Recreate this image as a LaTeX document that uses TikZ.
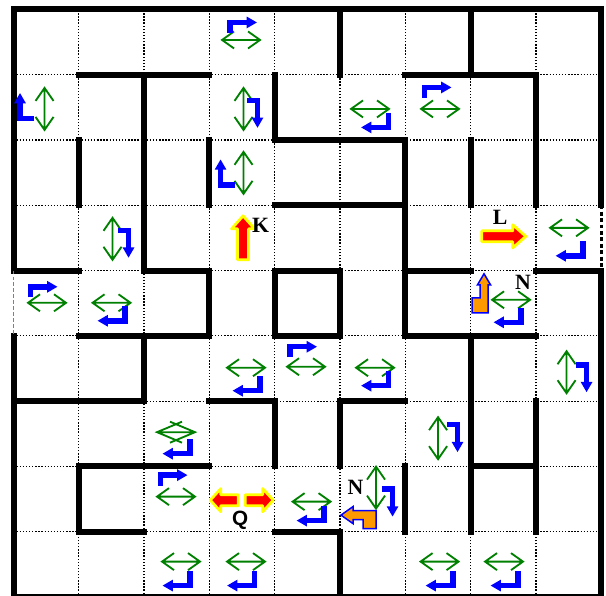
\documentclass[tikz,border=0pt]{standalone}
\usepackage{fontspec}
\setmainfont{Liberation Serif}
\newfontfamily\labelsans{Liberation Sans}
\usetikzlibrary{arrows.meta}
\definecolor{mazegreen}{RGB}{0,128,0}
\definecolor{mazeblue}{RGB}{0,0,255}
\definecolor{mazered}{RGB}{255,0,0}
\definecolor{mazeyellow}{RGB}{255,255,0}
\definecolor{mazeorange}{RGB}{255,153,0}
\tikzset{
  pxunit/.style={x=0.1531mm,y=0.1531mm},
  wall/.style={line width=2.6pt,line cap=rect},
  gridline/.style={line width=0.55pt,dash pattern=on 0.6pt off 0.75pt},
  greenarr/.style={pxunit,draw=mazegreen,line width=0.8pt},
  bluebend/.style={pxunit,draw=mazeblue,line width=2.4pt,
    -{Triangle[length=4.5pt,width=4.8pt]}},
  redshape/.style={pxunit,fill=mazered,draw=mazeyellow,line width=1.2pt,line join=round},
  orangeshape/.style={pxunit,fill=mazeorange,draw=mazeblue,line width=0.65pt},
  lbl/.style={inner sep=0pt,font=\fontsize{9.5}{11}\selectfont\bfseries},
  gh/.pic={\draw[greenarr] (-19,0)--(19,0) (-7,8.5)--(-19,0)--(-7,-8.5)
    (7,8.5)--(19,0)--(7,-8.5);},
  gv/.pic={\draw[greenarr] (0,-21)--(0,21) (-9,8)--(0,21)--(9,8)
    (-9,-8)--(0,-21)--(9,-8);},
  gx/.pic={\draw[greenarr] (-19,0)--(19,0) (6,10.5)--(-19,0)--(6,-10.5)
    (-6,10.5)--(19,0)--(-6,-10.5);},
  bur/.pic={\draw[bluebend] (-12,-8)--(-12,2.5)--(15,2.5);},
  bdl/.pic={\draw[bluebend] (12.5,9)--(12.5,-5.5)--(-15,-5.5);},
  brd/.pic={\draw[bluebend] (-8,12.5)--(2.5,12.5)--(2.5,-15);},
  blu/.pic={\draw[bluebend] (9,-10.5)--(-5,-10.5)--(-5,15);},
  redarr/.pic={\filldraw[redshape] (-22,-5.5)--(9,-5.5)--(9,-11.5)--(22,0)
    --(9,11.5)--(9,5.5)--(-22,5.5)--cycle;},
  redboth/.pic={\filldraw[redshape] (-3.5,-5.5)--(-21,-5.5)--(-21,-11.5)--(-31.5,0)
    --(-21,11.5)--(-21,5.5)--(-3.5,5.5)--cycle
    (3.5,-5.5)--(21,-5.5)--(21,-11.5)--(31.5,0)--(21,11.5)--(21,5.5)--(3.5,5.5)--cycle;},
  oul/.pic={\filldraw[orangeshape] (-9,-19.5)--(7,-19.5)--(7,8.5)--(9.5,8.5)
    --(3,19.5)--(-3.5,8.5)--(-1,8.5)--(-1,-4.5)--(-9,-4.5)--cycle;},
  olf/.pic={\filldraw[orangeshape] (17.5,-11)--(17.5,7)--(-5.5,7)--(-5.5,11)
    --(-17.5,2.5)--(-5.5,-6)--(-5.5,-2)--(4.5,-2)--(4.5,-11)--cycle;},
}

\begin{document}
\begin{tikzpicture}
\useasboundingbox (-0.207,0.023) rectangle (9.073,9.143);
% grid
\foreach \i in {1,...,8}{
  \draw[gridline] (\i,0)--(\i,9);
  \draw[gridline] (0,\i)--(9,\i);}
% walls
\foreach \y/\a/\b in {8/1/3,8/6/8,7/4/6,6/4/6,5/0/1,5/2/3,5/4/5,5/6/7,5/8/9,
                      4/1/3,4/4/5,4/6/8,3/0/2,3/3/4,3/5/6,2/1/3,2/7/8,1/1/2,1/4/5}
  \draw[wall] (\a,\y)--(\b,\y);
\foreach \x/\a/\b in {1/6/7,1/1/2,2/5/8,2/3/4,3/6/7,3/4/5,4/7/8,4/4/5,4/2/3,
                      5/8/9,5/4/5,5/2/3,5/0/1,6/4/7,6/1/2,7/8/9,7/6/7,7/1/4,8/6/8,8/1/3}
  \draw[wall] (\x,\a)--(\x,\b);
\draw[wall] (0,5)--(0,9)--(9,9)--(9,6) (9,5)--(9,0)--(0,0)--(0,4);
\draw[gray,line width=0.5pt,dash pattern=on 1.7pt off 0.9pt] (0,5)--(0,4);
\draw[line width=1.5pt,dash pattern=on 1.7pt off 1.1pt] (9,6)--(9,5);
% green moves
\foreach \x/\y in {3.484/8.531,5.459/7.475,6.531/7.475,8.507/5.654,0.513/4.506,
                   1.501/4.506,7.619/4.552,3.560/3.512,4.479/3.527,5.536/3.512,
                   2.488/1.538,4.564/1.461,2.565/0.543,3.560/0.543,6.524/0.543,7.511/0.543}
  \pic at (\x,\y) {gh};
\foreach \x/\y in {0.475/7.475,3.522/7.475,3.522/6.496,1.516/5.486,8.469/3.443,
                   6.501/2.433,5.551/1.676}
  \pic at (\x,\y) {gv};
\pic at (2.488,2.525) {gx};
% blue turns
\foreach \x/\y in {3.499/8.761,6.478/7.766,0.444/4.713,4.418/3.795,2.435/1.829}
  \pic at (\x,\y) {bur};
\foreach \x/\y in {5.551/7.276,8.530/5.310,1.516/4.315,7.580/4.292,3.583/3.244,
                   5.551/3.321,2.511/2.280,4.564/1.255,2.511/0.260,3.499/0.260,
                   6.539/0.260,7.534/0.260}
  \pic at (\x,\y) {bdl};
\foreach \x/\y in {3.698/7.414,1.723/5.425,8.737/3.366,6.761/2.448,5.766/1.461}
  \pic at (\x,\y) {brd};
\foreach \x/\y in {0.176/7.490,3.247/6.473}
  \pic at (\x,\y) {blu};
% red and orange pieces
\pic[rotate=90] at (3.515,5.501) {redarr};
\pic at (7.508,5.524) {redarr};
\pic at (3.495,1.484) {redboth};
\pic at (7.159,4.652) {oul};
\pic at (5.283,1.217) {olf};
% labels
\node[lbl] (labK) at (3.783,5.685) {K};
\node[lbl] (labL) at (7.450,5.807) {L};
\node[lbl] (labNa) at (7.802,4.813) {N};
\node[lbl] (labNb) at (5.237,1.683) {N};
\node[lbl,font=\labelsans\fontsize{9}{11}\selectfont\bfseries] (labQ) at (3.469,1.178) {Q};
\end{tikzpicture}
\end{document}
